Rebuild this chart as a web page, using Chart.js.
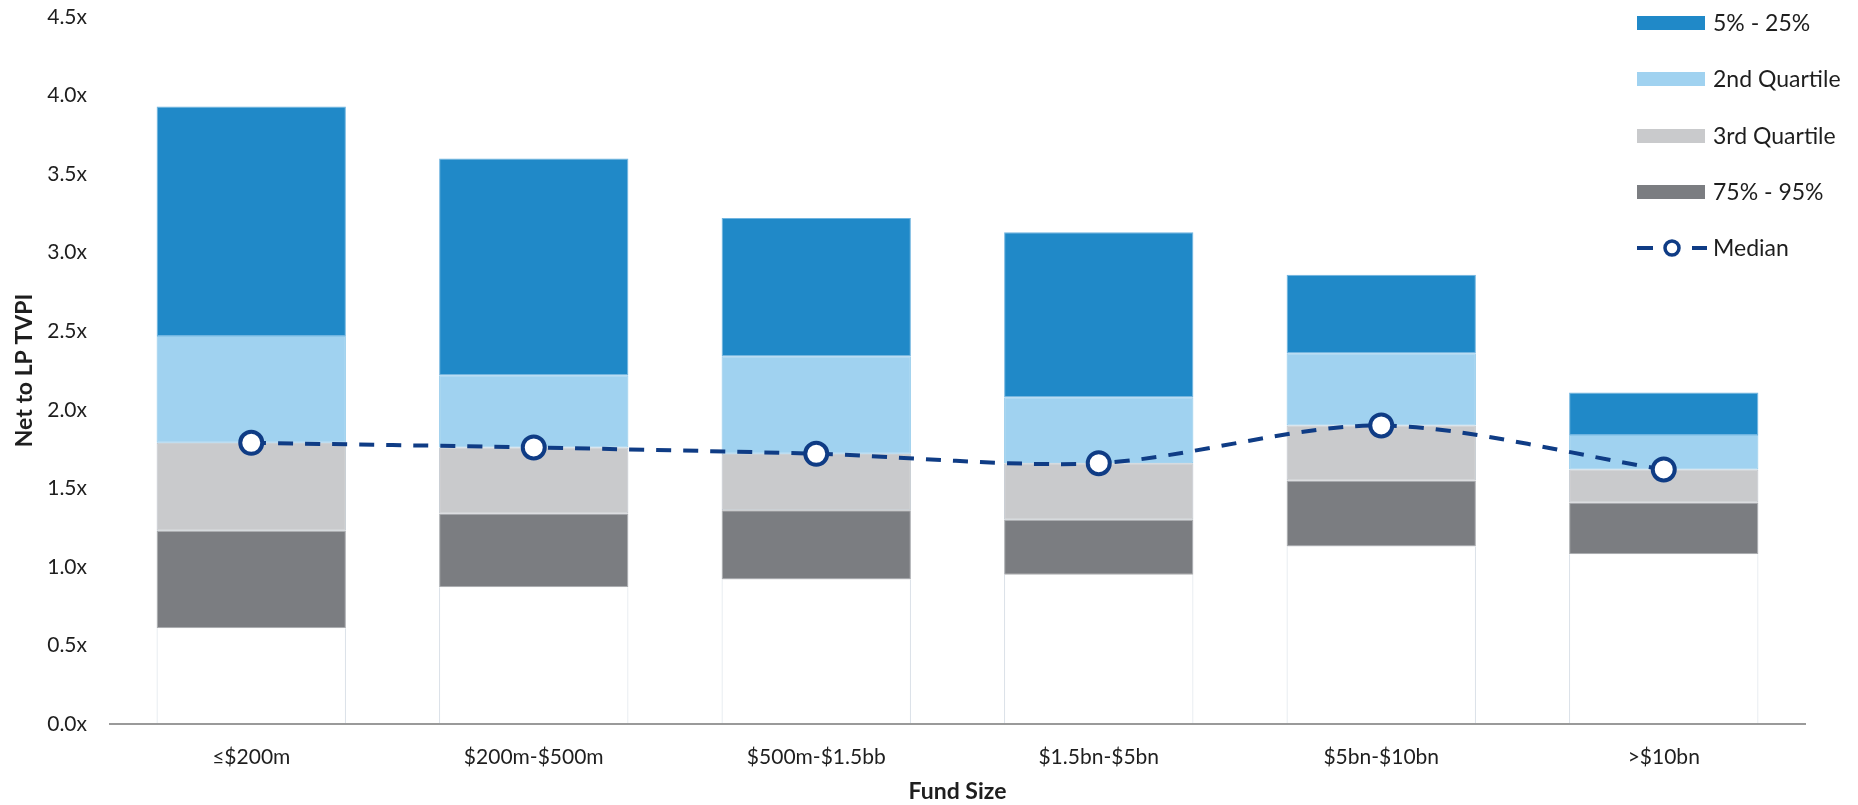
<!DOCTYPE html>
<html>
<head>
<meta charset="utf-8">
<title>Net to LP TVPI by Fund Size</title>
<script src="https://cdn.jsdelivr.net/npm/chart.js@4/dist/chart.umd.min.js"></script>
<style>
  html, body { margin: 0; padding: 0; background: #fff; }
  #wrap { position: relative; width: 1858px; height: 805px; }
</style>
</head>
<body>
<div id="wrap"><canvas id="tvpi" width="1858" height="805"></canvas></div>
<script>
// Fund size buckets
var fundSizes = ["≤$200m", "$200m-$500m", "$500m-$1.5bb", "$1.5bn-$5bn", "$5bn-$10bn", ">$10bn"];

// Percentile boundaries of net TVPI (x)
var pct95 = [0.61, 0.87, 0.92, 0.95, 1.13, 1.08];
var pct75 = [1.23, 1.34, 1.36, 1.30, 1.55, 1.41];
var median = [1.79, 1.76, 1.72, 1.66, 1.90, 1.62];
var pct25 = [2.47, 2.22, 2.34, 2.08, 2.36, 1.84];
var pct5 = [3.93, 3.60, 3.22, 3.13, 2.86, 2.11];

var yTicks = [0, 0.5, 1, 1.5, 2, 2.5, 3, 3.5, 4, 4.5];

var FONT = "Lato, 'Open Sans', sans-serif";
var TEXT = "#1e1e1e";

// floating segment [low, high] for each category
function band(lo, hi) {
    return lo.map(function (v, i) { return [v, hi[i]]; });
}

// legend drawn over the top-right corner of the plot
var sideLegend = {
    id: 'sideLegend',
    afterDraw: function (chart) {
        var ctx = chart.ctx;
        var x0 = 1637, boxW = 68, boxH = 14, textX = 1713;
        var rows = [
            { label: "5% - 25%", color: "#2089c8", y: 23 },
            { label: "2nd Quartile", color: "#a0d2f0", y: 79 },
            { label: "3rd Quartile", color: "#c9cacc", y: 136 },
            { label: "75% - 95%", color: "#7b7d81", y: 192 },
            { label: "Median", line: true, y: 248 }
        ];
        ctx.save();
        ctx.font = "23px " + FONT;
        ctx.textBaseline = "middle";
        ctx.fillStyle = TEXT;
        rows.forEach(function (r) {
            if (r.line) {
                ctx.strokeStyle = "#0f3c85";
                ctx.lineWidth = 4;
                ctx.beginPath();
                ctx.moveTo(x0, r.y); ctx.lineTo(x0 + 16, r.y);
                ctx.moveTo(x0 + 55, r.y); ctx.lineTo(x0 + 70, r.y);
                ctx.stroke();
                ctx.lineWidth = 3.5;
                ctx.beginPath();
                ctx.arc(x0 + 35, r.y, 7, 0, Math.PI * 2);
                ctx.fillStyle = "#fff";
                ctx.fill();
                ctx.stroke();
            } else {
                ctx.fillStyle = r.color;
                ctx.fillRect(x0, r.y - boxH / 2, boxW, boxH);
            }
            ctx.fillStyle = TEXT;
            ctx.fillText(r.label, textX, r.y + 1);
        });
        ctx.restore();
    }
};

var data = {
    labels: fundSizes,
    datasets: [
        {
            type: 'line',
            label: 'Median',
            data: median,
            order: 0,
            borderColor: '#0f3c85',
            borderWidth: 4,
            borderDash: [15, 12],
            tension: 0.3,
            pointRadius: 11,
            pointBorderWidth: 4,
            pointBackgroundColor: '#ffffff',
            pointBorderColor: '#0f3c85'
        },
        {
            label: 'base',
            data: band(fundSizes.map(function () { return 0; }), pct95),
            order: 1,
            backgroundColor: '#ffffff',
            borderColor: '#d3dbe3',
            borderWidth: { left: 1, right: 1, top: 0, bottom: 0 },
            borderSkipped: false
        },
        {
            label: '75% - 95%',
            data: band(pct95, pct75),
            order: 1,
            backgroundColor: '#7b7d81',
            borderColor: '#a6a9ad',
            borderWidth: 1,
            borderSkipped: false
        },
        {
            label: '3rd Quartile',
            data: band(pct75, median),
            order: 1,
            backgroundColor: '#c9cacc',
            borderColor: '#bcc3ca',
            borderWidth: 1,
            borderSkipped: false
        },
        {
            label: '2nd Quartile',
            data: band(median, pct25),
            order: 1,
            backgroundColor: '#a0d2f0',
            borderColor: '#8cc7ea',
            borderWidth: 1,
            borderSkipped: false
        },
        {
            label: '5% - 25%',
            data: band(pct25, pct5),
            order: 1,
            backgroundColor: '#2089c8',
            borderColor: '#6fb4e0',
            borderWidth: 1,
            borderSkipped: false
        }
    ]
};

var config = {
    type: 'bar',
    data: data,
    options: {
        responsive: false,
        animation: false,
        devicePixelRatio: 1,
        layout: { autoPadding: false, padding: { top: 17, right: 53, bottom: 0, left: 0 } },
        datasets: { bar: { barPercentage: 0.67, categoryPercentage: 1 } },
        plugins: {
            legend: { display: false },
            tooltip: { enabled: false }
        },
        scales: {
            x: {
                stacked: true,
                grid: { display: false, drawTicks: false },
                border: { display: true, color: '#9a9a9a', width: 2, z: 1 },
                ticks: { color: TEXT, font: { family: FONT, size: 21 }, padding: 21, maxRotation: 0 },
                title: {
                    display: true, text: 'Fund Size', color: TEXT,
                    font: { family: FONT, size: 23, weight: 'bold' },
                    padding: { top: 0, bottom: 0 }
                },
                afterFit: function (scale) {
                    scale.height = 81;
                    scale.paddingLeft = 0;
                    scale.paddingRight = 0;
                }
            },
            y: {
                min: 0,
                max: 4.5,
                grid: { display: false, drawTicks: false },
                border: { display: false },
                afterBuildTicks: function (scale) {
                    scale.ticks = yTicks.map(function (v) { return { value: v }; });
                },
                ticks: {
                    color: TEXT,
                    font: { family: FONT, size: 21 },
                    padding: 23,
                    callback: function (v) { return Number(v).toFixed(1) + 'x'; }
                },
                title: {
                    display: true, text: 'Net to LP TVPI', color: TEXT,
                    font: { family: FONT, size: 23, weight: 'bold' },
                    padding: { top: 11, bottom: 0 }
                },
                afterFit: function (scale) {
                    scale.width = 110;
                    scale.paddingTop = 0;
                    scale.paddingBottom = 0;
                }
            }
        }
    },
    plugins: [sideLegend]
};

new Chart(document.getElementById('tvpi'), config);
</script>
</body>
</html>
